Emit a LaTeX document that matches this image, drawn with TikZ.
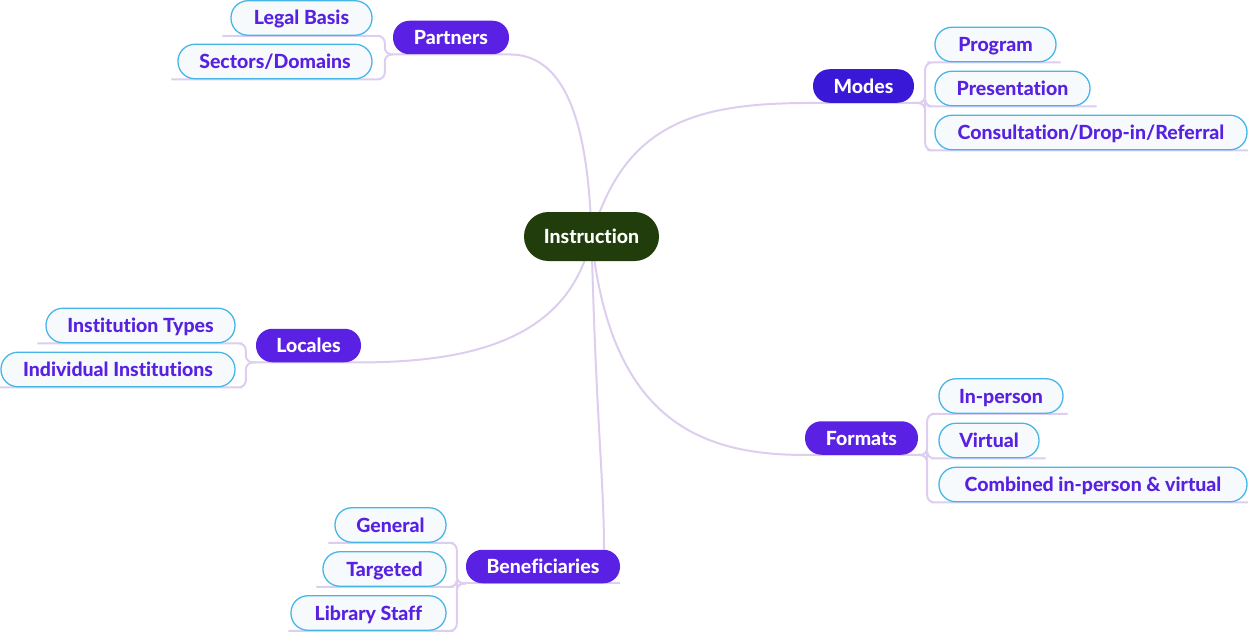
\documentclass[tikz,border=0pt]{standalone}
\usepackage{fontspec}
\IfFontExistsTF{Lato Heavy}
  {\setmainfont{Lato}[BoldFont={Lato Heavy},Ligatures=NoCommon]}
  {\IfFontExistsTF{Lato Black}
    {\setmainfont{Lato}[BoldFont={Lato Black},Ligatures=NoCommon]}
    {\setmainfont{Lato}[Ligatures=NoCommon]}}
\usetikzlibrary{calc}
\pgfdeclarelayer{background}
\pgfsetlayers{background,main}
\definecolor{linkc}{RGB}{221,206,240}
\definecolor{leafb}{RGB}{70,182,232}
\definecolor{leaff}{RGB}{246,250,253}
\definecolor{leaft}{RGB}{88,32,224}
\definecolor{mainf}{RGB}{90,32,228}
\definecolor{modesf}{RGB}{58,24,216}
\definecolor{rootf}{RGB}{33,61,11}
\tikzset{
  link/.style={draw=linkc, line width=2pt},
  brk/.style={link, rounded corners=7pt},
  nfont/.style={font=\fontsize{19.5}{22}\selectfont\bfseries, text height=14pt, text depth=0pt},
  leaf/.style={nfont, draw=leafb, line width=1.3pt, fill=leaff, text=leaft,
    rounded corners=16.9pt, minimum height=34.5pt, inner sep=0pt},
  branch/.style={nfont, fill=mainf, text=white, rounded corners=16.4pt,
    minimum height=33.5pt, inner sep=0pt},
  root/.style={nfont, fill=rootf, text=white, rounded corners=24.4pt,
    minimum height=49pt, inner sep=0pt}
}
\begin{document}
\begin{tikzpicture}[x=1pt,y=-1pt]
\useasboundingbox (0,0) rectangle (1248,634);
% root
\node[root, minimum width=135] (root) at (591.5,236.5) {Instruction};
% branches
\node[branch, minimum width=116] (partners) at (451,37.5) {Partners};
\node[branch, fill=modesf, minimum width=101] (modes) at (863.5,86) {Modes};
\node[branch, minimum width=105] (locales) at (308.5,345.5) {Locales};
\node[branch, minimum width=113] (formats) at (861.5,438) {Formats};
\node[branch, minimum width=154] (benef) at (543,566.5) {Beneficiaries};
% leaves
\node[leaf, minimum width=141] (legal) at (301.5,18) {Legal Basis};
\node[leaf, minimum width=194] (sectors) at (275,61.5) {Sectors/Domains};
\node[leaf, minimum width=121] (program) at (995.5,44.5) {Program};
\node[leaf, minimum width=155] (present) at (1012.5,88.5) {Presentation};
\node[leaf, minimum width=312] (consult) at (1091,132.5) {Consultation/Drop-in/Referral};
\node[leaf, minimum width=189] (insttypes) at (140.5,325.5) {Institution Types};
\node[leaf, minimum width=234] (indiv) at (118,369.5) {Individual Institutions};
\node[leaf, minimum width=124] (inperson) at (1001,396) {In-person};
\node[leaf, minimum width=100] (virtual) at (989,440.5) {Virtual};
\node[leaf, minimum width=308] (combined) at (1093,484.5) {Combined in-person \& virtual};
\node[leaf, minimum width=111] (general) at (390.5,525) {General};
\node[leaf, minimum width=123] (targeted) at (384.5,569) {Targeted};
\node[leaf, minimum width=155] (library) at (368.5,613) {Library Staff};

\begin{pgfonlayer}{background}
% main connectors
\draw[link] (root.center) .. controls (588,110) and (560,54) .. (partners.south east) -- (partners.south west);
\draw[link] (root.center) .. controls (625,120) and (700,103) .. (modes.south west) -- (modes.south east);
\draw[link] (root.center) .. controls (570,340) and (470,362) .. (locales.south east) -- (locales.south west);
\draw[link] (root.center) .. controls (610,420) and (700,455) .. (formats.south west) -- (formats.south east);
\draw[link] (root.center) .. controls (596,420) and (604,480) .. ([xshift=61pt]benef.north);
\draw[link] (benef.south east) -- (benef.south west);
% partners
\draw[brk] (partners.south west) -- ++(-8,0) |- (legal.south east) -- ($(legal.south west)+(-8,0)$);
\draw[brk] (partners.south west) -- ++(-8,0) |- (sectors.south east) -- ($(sectors.south west)+(-6,0)$);
% modes
\draw[brk] (modes.south east) -- ++(11,0) |- (program.south west) -- ($(program.south east)+(4,0)$);
\draw[brk] (modes.south east) -- ++(11,0) |- (present.south west) -- ($(present.south east)+(6,0)$);
\draw[brk] (modes.south east) -- ++(11,0) |- (consult.south west) -- ($(consult.south east)+(2,0)$);
% locales
\draw[brk] (locales.south west) -- ++(-10,0) |- (insttypes.south east) -- ($(insttypes.south west)+(-8,0)$);
\draw[brk] (locales.south west) -- ++(-10,0) |- (indiv.south east) -- ($(indiv.south west)+(-2,0)$);
% formats
\draw[brk] (formats.south east) -- ++(9,0) |- (inperson.south west) -- ($(inperson.south east)+(4,0)$);
\draw[brk] (formats.south east) -- ++(9,0) |- (virtual.south west) -- ($(virtual.south east)+(6,0)$);
\draw[brk] (formats.south east) -- ++(9,0) |- (combined.south west) -- ($(combined.south east)+(2,0)$);
% beneficiaries
\draw[brk] (benef.south west) -- ++(-9,0) |- (general.south east) -- ($(general.south west)+(-6,0)$);
\draw[brk] (benef.south west) -- ++(-9,0) |- (targeted.south east) -- ($(targeted.south west)+(-6,0)$);
\draw[brk] (benef.south west) -- ++(-9,0) |- (library.south east) -- ($(library.south west)+(-2,0)$);
\end{pgfonlayer}
\end{tikzpicture}
\end{document}
